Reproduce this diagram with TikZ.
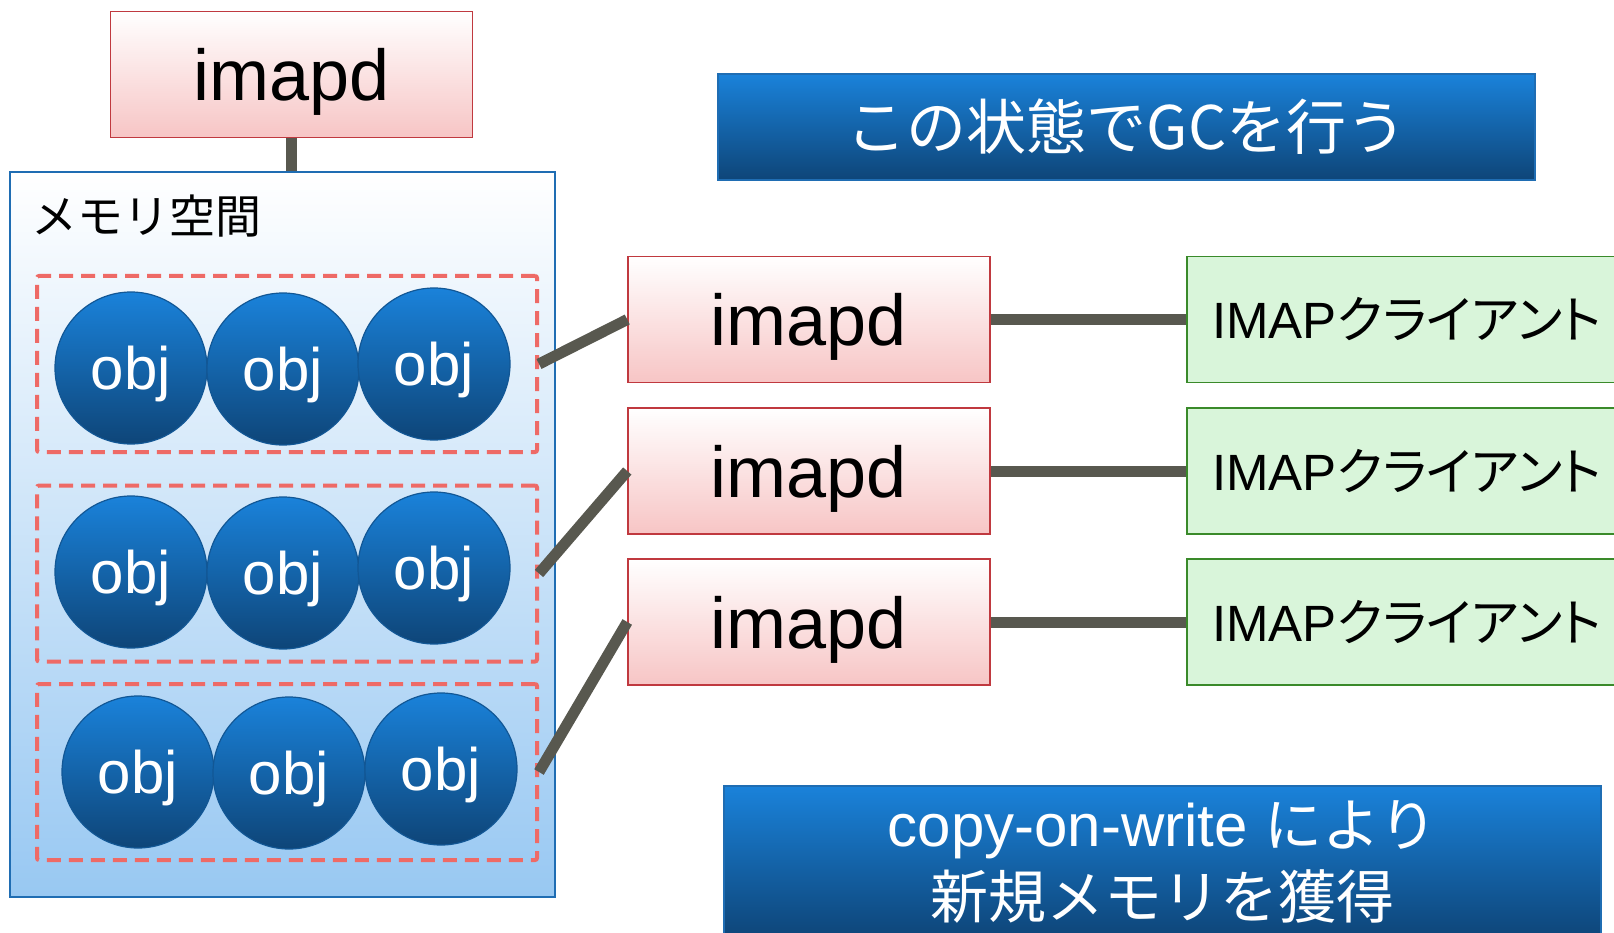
\documentclass[tikz,border=0pt]{standalone}
\usepackage{fontspec}
\usepackage{tikz}
\usepackage{xcolor}
\usetikzlibrary{positioning,shapes}
\setmainfont{Liberation Sans}
\newfontfamily\jp{Noto Sans CJK JP}
\newfontfamily\jpnarrow[RawFeature=+palt]{Noto Sans CJK JP}
\definecolor{objblue}{RGB}{26,130,218}
\definecolor{objdark}{RGB}{14,69,120}
\definecolor{procred}{RGB}{192,57,63}
\definecolor{procpink}{RGB}{247,197,197}
\definecolor{cligreen}{RGB}{58,138,42}
\definecolor{clifill}{RGB}{217,245,218}
\definecolor{membord}{RGB}{31,109,179}
\definecolor{memblue}{RGB}{152,200,242}
\definecolor{dashred}{RGB}{238,106,102}
\definecolor{wiregray}{RGB}{88,88,79}

\begin{document}
\begin{tikzpicture}[x=1pt,y=-1pt]
      \tikzstyle{proc}=[draw=procred,line width=1.5pt,%
        top color=white,bottom color=procpink,%
        minimum width=362pt,minimum height=126pt,inner sep=0,%
        text depth=0pt,font=\fontsize{72}{80}\selectfont]
      \tikzstyle{client}=[draw=cligreen,line width=1.5pt,fill=clifill,%
        minimum width=440pt,minimum height=126pt,inner sep=0,%
        font=\fontsize{51}{60}\selectfont]
      \tikzstyle{obj}=[circle,draw=objdark!70!objblue,line width=1.2pt,%
        top color=objblue,bottom color=objdark,minimum size=152pt,%
        inner sep=0,text depth=0pt,text=white,font=\fontsize{60}{66}\selectfont]
      \tikzstyle{objgroup}=[draw=dashred,line width=4pt,%
        dash pattern=on 14pt off 8pt,rounded corners=2pt,%
        minimum width=500pt,minimum height=176pt]
      \tikzstyle{note}=[draw=membord,line width=1.5pt,%
        top color=objblue,bottom color=objdark,text=white,inner sep=0,%
        align=center,font=\jp\fontsize{60}{72}\selectfont]
      \tikzstyle{link}=[draw=wiregray,line width=11pt]

      \useasboundingbox (0,0) rectangle (1614,933);

      \node[proc] (top) at (291.5,74.5) {imapd};
      \node[draw=membord,line width=1.5pt,top color=white,bottom color=memblue,%
        minimum width=545pt,minimum height=725pt] (mem) at (282.5,534.5) {};
      \node[anchor=west,font=\jp\fontsize{46}{50}\selectfont] (memlabel) at (28,216) {メモリ空間};

      \node[objgroup] (g1) at (287,364) {};
      \node[objgroup] (g2) at (287,573.5) {};
      \node[objgroup] (g3) at (287,772) {};

      \node[obj] (o11) at (131,368) {obj};
      \node[obj] (o12) at (283,369) {obj};
      \node[obj] (o13) at (434,364) {obj};
      \node[obj] (o21) at (131,572) {obj};
      \node[obj] (o22) at (283,573) {obj};
      \node[obj] (o23) at (434,568) {obj};
      \node[obj] (o31) at (138,772) {obj};
      \node[obj] (o32) at (289,773) {obj};
      \node[obj] (o33) at (441,769) {obj};

      \node[proc] (p1) at (809,319.5) {imapd};
      \node[proc] (p2) at (809,471) {imapd};
      \node[proc] (p3) at (809,622) {imapd};

      \node[client] (c1) at (1407,319.5) {IMAP{\jpnarrow クライアント}};
      \node[client] (c2) at (1407,471) {IMAP{\jpnarrow クライアント}};
      \node[client] (c3) at (1407,622) {IMAP{\jpnarrow クライアント}};

      \node[note,minimum width=817pt,minimum height=106pt] (gc) at (1126.5,127) {この状態でGCを行う};
      \node[note,minimum width=877pt,minimum height=152pt,%
        font=\jp\fontsize{58}{72}\selectfont] (cow) at (1162.5,862)
        {{\fontsize{60}{72}\selectfont\rmfamily copy-on-write }により\\新規メモリを獲得};

      \path [link] (top.south) edge (top.south |- mem.north);

      \path [link] (g1.east) edge (p1.west);
      \path [link] (g2.east) edge (p2.west);
      \path [link] (g3.east) edge (p3.west);

      \path [link] (p1.east) edge (c1.west);
      \path [link] (p2.east) edge (c2.west);
      \path [link] (p3.east) edge (c3.west);
    \end{tikzpicture}
\end{document}
